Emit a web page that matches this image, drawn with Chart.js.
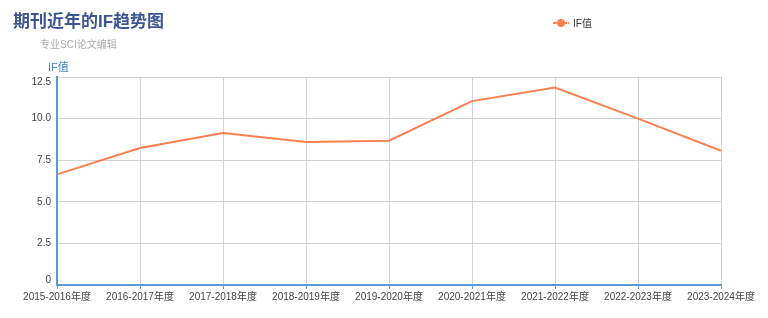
<!DOCTYPE html>
<html><head><meta charset="utf-8">
<script src="https://cdn.jsdelivr.net/npm/chart.js@4"></script>
<style>
html,body{margin:0;padding:0;background:#fff;}
#wrap{position:relative;width:768px;height:318px;font-family:"Liberation Sans","Noto Sans CJK SC",sans-serif;}
canvas{position:absolute;left:0;top:0;}
.t{position:absolute;white-space:nowrap;}
#title{left:13px;top:7px;font-size:17px;font-weight:bold;color:#3a5591;}
#sub{left:40px;top:36px;font-size:10px;color:#aaa;}
#yname{left:48px;top:58px;font-size:11px;color:#3f86c2;}
#leg{left:553px;top:15px;font-size:10px;color:#333;display:flex;align-items:center;}
#leg .mk{position:relative;width:16px;height:8px;margin-right:4px;}
#leg .ln{position:absolute;left:0;top:3px;width:16px;height:2px;background:repeating-linear-gradient(90deg,#ff7f50 0 4px,transparent 4px 5px);}
#leg .dot{position:absolute;left:4px;top:0;width:8px;height:8px;border-radius:50%;background:#ff7f50;}
</style></head>
<body><div id="wrap">
<canvas id="c" width="768" height="318"></canvas>
<div class="t" id="title">期刊近年的IF趋势图</div>
<div class="t" id="sub">专业SCI论文编辑</div>
<div class="t" id="yname">IF值</div>
<div class="t" id="leg"><span class="mk"><span class="ln"></span><span class="dot"></span></span>IF值</div>
</div>
<script>
const categories = ["2015-2016年度","2016-2017年度","2017-2018年度","2018-2019年度","2019-2020年度","2020-2021年度","2021-2022年度","2022-2023年度","2023-2024年度"];
const ifValues = [6.65, 8.23, 9.13, 8.6, 8.67, 11.05, 11.87, 10.0, 8.07];
const yTicks = [0, 2.5, 5.0, 7.5, 10.0, 12.5];
const seriesName = "IF值";
const FONT = '"Liberation Sans","Noto Sans CJK SC",sans-serif';

const yLabels = {
  id: 'yLabels',
  afterDraw(chart) {
    const s = chart.scales.y, ctx = chart.ctx;
    ctx.save();
    ctx.font = '10px ' + FONT;
    ctx.fillStyle = '#444';
    ctx.textAlign = 'right';
    ctx.textBaseline = 'middle';
    const lo = yTicks[0], hi = yTicks[yTicks.length - 1];
    yTicks.forEach(v => {
      let y = s.getPixelForValue(v);
      if (v === hi) y += 5;
      if (v === lo) y -= 5;
      ctx.fillText(v === 0 ? '0' : v.toFixed(1), s.right - 6, y);
    });
    ctx.restore();
  }
};

new Chart(document.getElementById('c'), {
  type: 'line',
  data: {
    labels: categories,
    datasets: [{
      label: seriesName,
      data: ifValues,
      borderColor: '#ff7f50',
      backgroundColor: '#ff7f50',
      borderWidth: 2,
      pointRadius: 0,
      tension: 0,
      fill: false
    }]
  },
  options: {
    responsive: false,
    animation: false,
    devicePixelRatio: 1,
    layout: { padding: { top: 77, right: 47, left: 0, bottom: 0 } },
    plugins: { legend: { display: false }, title: { display: false }, tooltip: { enabled: false } },
    scales: {
      x: {
        offset: false,
        afterFit: s => { s.height = 33; },
        grid: { color: '#d4d4d4', lineWidth: 1, tickColor: '#6a9fcf', tickLength: 4, drawOnChartArea: true },
        border: { color: '#5b9bd5', width: 2 },
        ticks: { color: '#444', font: { size: 10, family: FONT }, maxRotation: 0, autoSkip: false, padding: 2 }
      },
      y: {
        min: 0, max: 12.5,
        afterFit: s => { s.width = 57; },
        afterBuildTicks: s => { s.ticks = yTicks.map(v => ({ value: v })); },
        grid: { color: '#d4d4d4', lineWidth: 1, drawTicks: false },
        border: { color: '#5b9bd5', width: 2 },
        ticks: { display: false }
      }
    }
  },
  plugins: [yLabels]
});
</script>
</body></html>
